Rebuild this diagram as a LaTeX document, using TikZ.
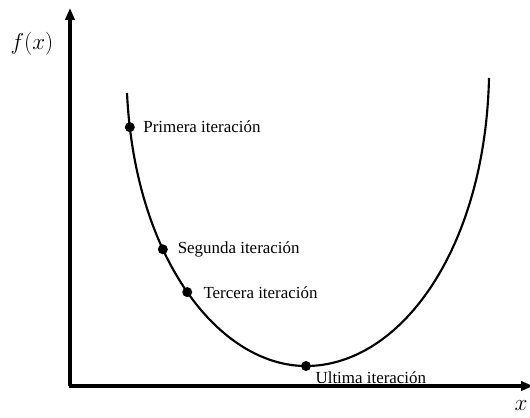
\documentclass[tikz,border=0pt]{standalone}
\usepackage{fontspec}
\setmainfont{Liberation Serif}
\usetikzlibrary{arrows.meta}
\begin{document}
\begin{tikzpicture}[x=0.75pt,y=-0.75pt,
  axis/.style={line width=2.3pt,-{Triangle[length=9pt,width=7pt]}},
  curve/.style={line width=1.6pt},
  dot/.style={circle,fill=black,inner sep=0pt,minimum size=7.5pt},
  lbl/.style={anchor=west,font=\fontsize{12.7}{14}\selectfont,inner sep=0pt}]
\useasboundingbox (0,0) rectangle (530,417);
\coordinate (O) at (70,386);
\coordinate (Ytop) at (70,8);
\coordinate (Xend) at (533,386);
\draw[axis] (O) -- (Ytop);
\draw[axis] ([xshift=-1pt]O) -- (Xend);
\node (fx) at (32,44) {\fontsize{17}{20}\selectfont$f(x)$};
\node (xl) at (521,406) {\fontsize{17}{20}\selectfont$x$};
\coordinate (A) at (127,93);
\coordinate (M) at (306,366);
\coordinate (B) at (489,78);
\draw[curve] (A) .. controls (135,260) and (220,366) ..
  node[dot,pos=0.07] (p1) {}
  node[dot,pos=0.365] (p2) {}
  node[dot,pos=0.5] (p3) {}
  node[dot,pos=1] (p4) {}
  (M) .. controls (400,366) and (485,250) .. (B);
\node[lbl] (l1) at ([xshift=10pt]p1.center) {Primera iteración};
\node[lbl] (l2) at ([xshift=11pt]p2.center) {Segunda iteración};
\node[lbl] (l3) at ([xshift=12pt,yshift=-0.5pt]p3.center) {Tercera iteración};
\node[lbl] (l4) at ([xshift=7pt,yshift=-9pt]p4.center) {Ultima iteración};
\end{tikzpicture}
\end{document}
